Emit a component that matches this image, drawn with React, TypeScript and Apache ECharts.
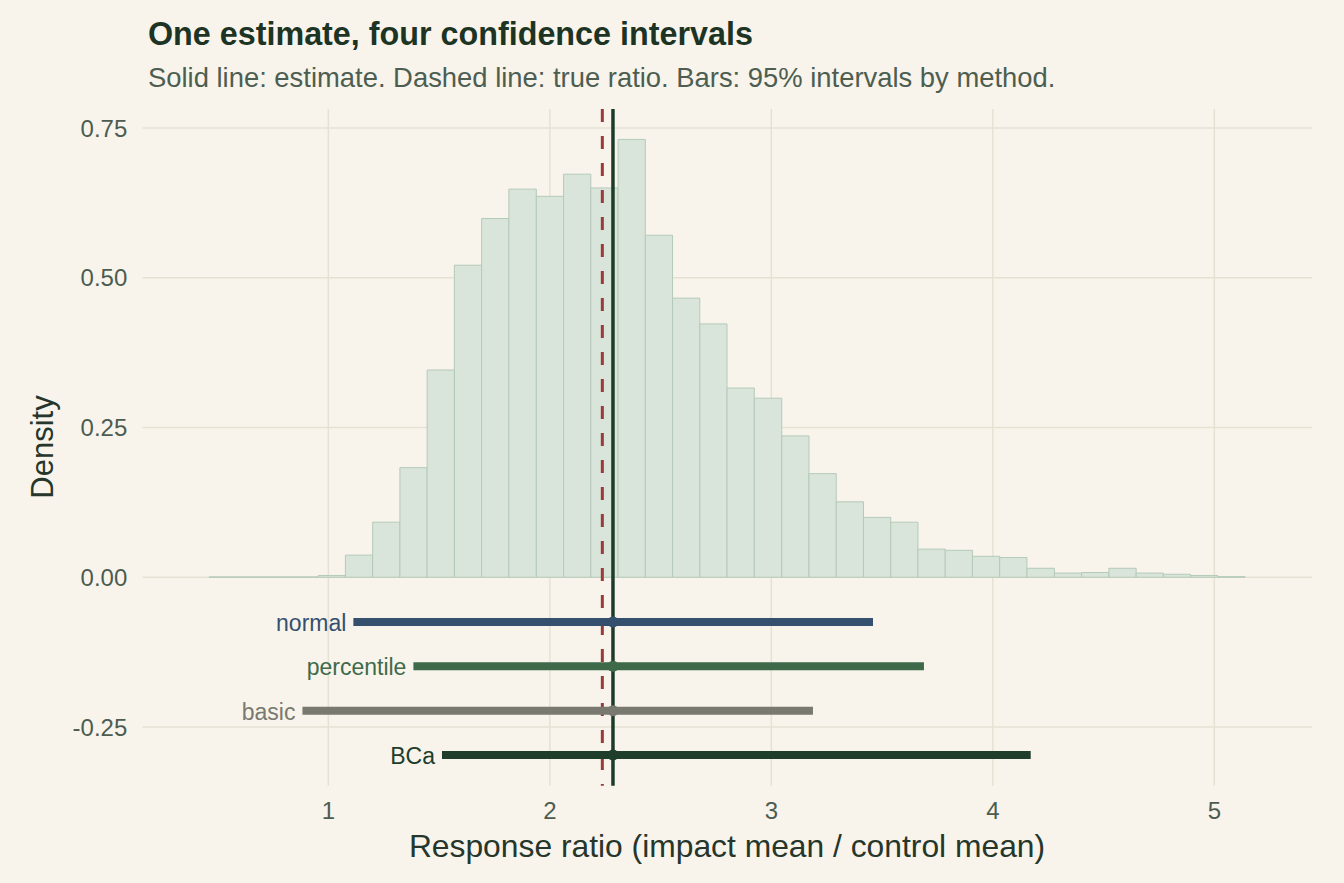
import React, { useEffect, useRef } from "react";
import * as echarts from "echarts";

// Histogram bin edges (x, response ratio) and densities
const binEdges = [
  0.461, 0.585, 0.708, 0.831, 0.954, 1.077, 1.2, 1.323, 1.446, 1.569,
  1.692, 1.815, 1.939, 2.062, 2.185, 2.308, 2.431, 2.554, 2.677, 2.8,
  2.923, 3.047, 3.17, 3.293, 3.416, 3.539, 3.662, 3.785, 3.908, 4.031,
  4.154, 4.278, 4.401, 4.524, 4.647, 4.77, 4.893, 5.016, 5.139,
];
const binDensity = [
  0.0005, 0.0005, 0.0005, 0.0005, 0.003, 0.037, 0.092, 0.183, 0.346, 0.521,
  0.599, 0.648, 0.636, 0.673, 0.65, 0.731, 0.571, 0.466, 0.423, 0.316,
  0.299, 0.236, 0.173, 0.126, 0.1, 0.092, 0.047, 0.045, 0.035, 0.033,
  0.015, 0.007, 0.008, 0.015, 0.007, 0.005, 0.003, 0.001,
];

// Confidence intervals
const methods = ["normal", "percentile", "basic", "BCa"];
const lowerBounds = [1.113, 1.384, 0.883, 1.513];
const upperBounds = [3.459, 3.689, 3.188, 4.171];
const rowPositions = [-0.0746, -0.1486, -0.2227, -0.2967];
const methodColors = ["#34506e", "#3e6a4a", "#79796f", "#1f3d2b"];

const estimate = 2.285;
const trueRatio = 2.237;

const xTicks = [1, 2, 3, 4, 5];
const yTicks = [-0.25, 0, 0.25, 0.5, 0.75];

const FONT = '"Liberation Sans", Arial, Helvetica, sans-serif';
const BG = "#f8f4ec";
const GRID = "#e6e2d3";

export default function App() {
  const ref = useRef<HTMLDivElement>(null);

  useEffect(() => {
    document.body.style.margin = "0";
    const chart = echarts.init(ref.current!, null, { renderer: "svg" });

    const histData = binDensity.map((d, i) => [binEdges[i], binEdges[i + 1], d]);
    const intervalData = methods.map((_, i) => [
      lowerBounds[i],
      upperBounds[i],
      rowPositions[i],
      estimate,
      i,
    ]);

    const option: any = {
      animation: false,
      backgroundColor: BG,
      grid: { left: 142.3, right: 32, top: 109, bottom: 97.3 },
      xAxis: {
        type: "value",
        min: 0.16,
        max: 5.441,
        axisLine: { show: false },
        axisTick: { show: false },
        splitLine: { show: false },
        axisLabel: {
          customValues: xTicks,
          fontSize: 24,
          fontFamily: FONT,
          color: "#4d5c50",
          margin: 13,
        },
      },
      yAxis: {
        type: "value",
        min: -0.348,
        max: 0.7818,
        axisLine: { show: false },
        axisTick: { show: false },
        splitLine: { show: false },
        axisLabel: {
          customValues: yTicks,
          fontSize: 24,
          fontFamily: FONT,
          color: "#4d5c50",
          margin: 15,
          formatter: (v: number) => v.toFixed(2),
        },
      },
      graphic: [
        {
          type: "text",
          x: 148,
          y: 34,
          style: {
            text: "One estimate, four confidence intervals",
            font: `bold 32.3px ${FONT}`,
            fill: "#1d3424",
            align: "left",
            verticalAlign: "middle",
          },
        },
        {
          type: "text",
          x: 148,
          y: 77,
          style: {
            text: "Solid line: estimate. Dashed line: true ratio. Bars: 95% intervals by method.",
            font: `27.4px ${FONT}`,
            fill: "#4d5e51",
            align: "left",
            verticalAlign: "middle",
          },
        },
        {
          type: "text",
          x: 727,
          y: 846,
          style: {
            text: "Response ratio (impact mean / control mean)",
            font: `31.8px ${FONT}`,
            fill: "#26362b",
            align: "center",
            verticalAlign: "middle",
          },
        },
        {
          type: "text",
          x: 42,
          y: 447,
          rotation: Math.PI / 2,
          style: {
            text: "Density",
            font: `31px ${FONT}`,
            fill: "#26362b",
            align: "center",
            verticalAlign: "middle",
          },
        },
      ],
      series: [
        {
          type: "custom",
          name: "vgrid",
          z: 1,
          silent: true,
          data: xTicks.map((v) => [v, 0]),
          encode: { x: 0, y: 1 },
          renderItem: (params: any, api: any) => {
            const cs = params.coordSys;
            const x = api.coord([api.value(0), 0])[0];
            return {
              type: "line",
              shape: { x1: x, y1: cs.y, x2: x, y2: cs.y + cs.height },
              style: { stroke: GRID, lineWidth: 1.5 },
            };
          },
        },
        {
          type: "custom",
          name: "hgrid",
          z: 1,
          silent: true,
          data: yTicks.map((v) => [1, v]),
          encode: { x: 0, y: 1 },
          renderItem: (params: any, api: any) => {
            const cs = params.coordSys;
            const y = api.coord([1, api.value(1)])[1];
            return {
              type: "line",
              shape: { x1: cs.x, y1: y, x2: cs.x + cs.width, y2: y },
              style: { stroke: GRID, lineWidth: 1.5 },
            };
          },
        },
        {
          type: "custom",
          name: "histogram",
          z: 2,
          silent: true,
          data: histData,
          encode: { x: [0, 1], y: 2 },
          renderItem: (params: any, api: any) => {
            const p1 = api.coord([api.value(0), api.value(2)]);
            const p2 = api.coord([api.value(1), 0]);
            return {
              type: "rect",
              shape: {
                x: p1[0],
                y: p1[1],
                width: p2[0] - p1[0],
                height: p2[1] - p1[1],
              },
              style: { fill: "#d9e4da", stroke: "#b5cab8", lineWidth: 1 },
            };
          },
        },
        {
          type: "custom",
          name: "reference lines",
          z: 3,
          silent: true,
          data: [
            [trueRatio, 1],
            [estimate, 0],
          ],
          encode: { x: 0, y: 1 },
          renderItem: (params: any, api: any) => {
            const cs = params.coordSys;
            const x = api.coord([api.value(0), 0])[0];
            const dashed = api.value(1) === 1;
            return {
              type: "line",
              shape: { x1: x, y1: cs.y, x2: x, y2: cs.y + cs.height },
              style: dashed
                ? { stroke: "#9a3b3a", lineWidth: 3, lineDash: [13, 14] }
                : { stroke: "#1e3b29", lineWidth: 3.5 },
            };
          },
        },
        {
          type: "custom",
          name: "intervals",
          z: 4,
          silent: true,
          data: intervalData,
          encode: { x: [0, 1, 3], y: 2 },
          renderItem: (params: any, api: any) => {
            const idx = api.value(4);
            const color = methodColors[idx];
            const p1 = api.coord([api.value(0), api.value(2)]);
            const p2 = api.coord([api.value(1), api.value(2)]);
            const pe = api.coord([api.value(3), api.value(2)]);
            return {
              type: "group",
              children: [
                {
                  type: "line",
                  shape: { x1: p1[0], y1: p1[1], x2: p2[0], y2: p2[1] },
                  style: { stroke: color, lineWidth: 8, lineCap: "butt" },
                },
                {
                  type: "circle",
                  shape: { cx: pe[0], cy: pe[1], r: 5.5 },
                  style: { fill: color },
                },
                {
                  type: "text",
                  x: p1[0] - 7,
                  y: p1[1] + 1,
                  style: {
                    text: methods[idx],
                    fill: color,
                    font: `23px ${FONT}`,
                    align: "right",
                    verticalAlign: "middle",
                  },
                },
              ],
            };
          },
        },
      ],
    };

    chart.setOption(option);
    return () => chart.dispose();
  }, []);

  return (
    <div
      ref={ref}
      style={{ width: 1344, height: 883, position: "absolute", left: 0, top: 0 }}
    />
  );
}
